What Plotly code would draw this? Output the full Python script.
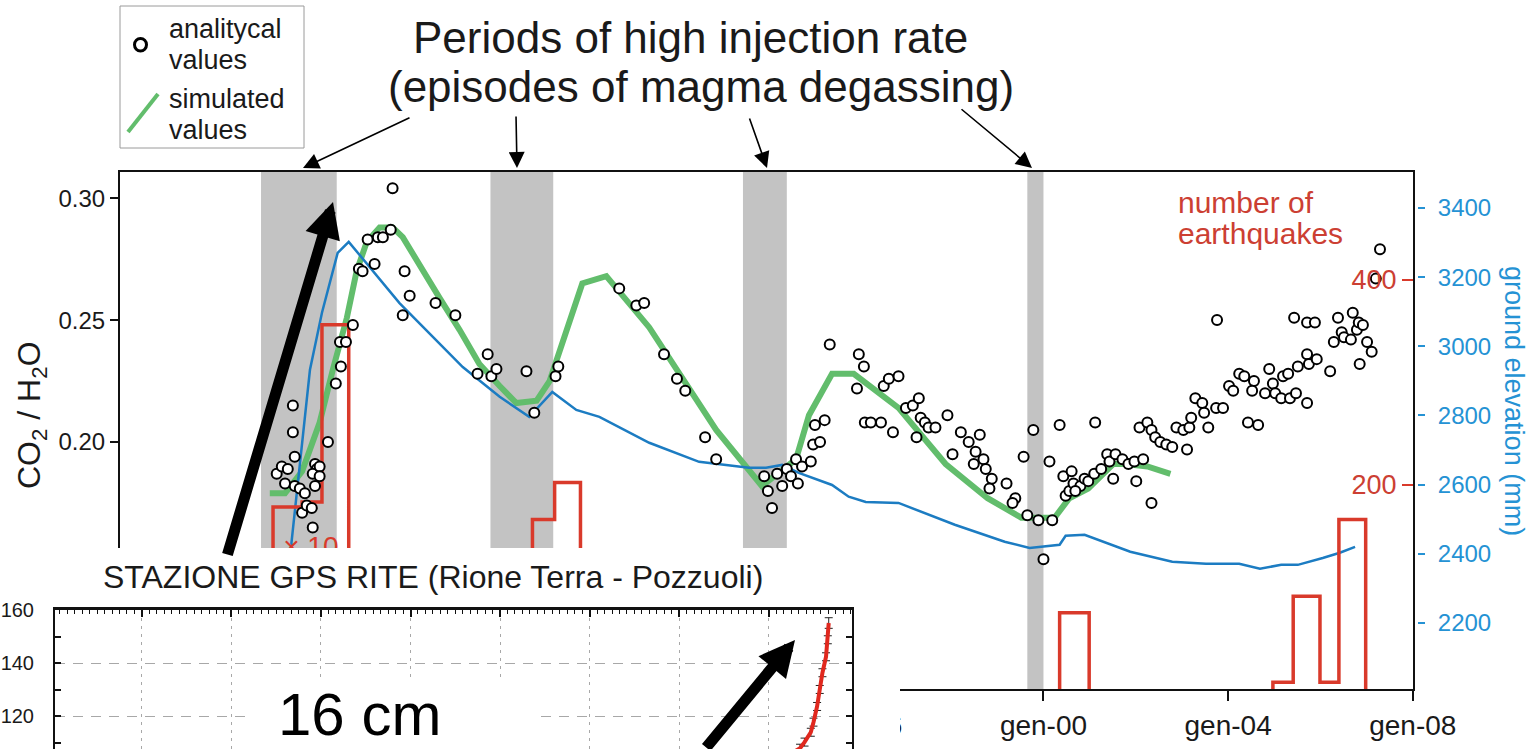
import plotly.graph_objects as go

W, H = 1538, 749


def px(x):
    return x / W


def py(y):
    return 1 - y / H


FONT = "Liberation Sans, Arial, sans-serif"
GREEN = "#62bd6c"
BLUE = "#1c7cc2"
BLUE_TXT = "#2592d4"
RED = "#d93a2b"
RED_TXT = "#cc3f33"
GRAY = "#c3c3c3"
INK = "#1a1a1a"

# ---------------- data ----------------
x_tick_years = [1980, 1984, 1988, 1992, 1996, 2000, 2004, 2008]
x_tick_labels = ["gen-80", "gen-84", "gen-88", "gen-92", "gen-96", "gen-00", "gen-04", "gen-08"]

ratio_ticks = [0.10, 0.15, 0.20, 0.25, 0.30]
elev_ticks = [2200, 2400, 2600, 2800, 3000, 3200, 3400]
eq_ticks = [200, 400]

period_start = [1983.05, 1988.02, 1993.49, 1999.65]
period_end = [1984.69, 1989.38, 1994.44, 2000.00]

# analytical CO2/H2O values
obs_year = [
    1983.39, 1983.50, 1983.63, 1983.57, 1983.74, 1983.74, 1983.78, 1983.78, 1983.89, 1984.00,
    1983.94, 1984.04, 1984.17, 1984.15, 1984.22, 1984.26, 1984.17, 1984.32, 1984.32, 1984.22,
    1984.50, 1984.67, 1984.78, 1984.76, 1984.89, 1985.04, 1985.17, 1985.25, 1985.36, 1985.51,
    1985.58, 1985.69, 1985.86, 1985.90, 1986.16, 1986.27, 1986.12, 1986.83, 1987.26, 1987.96,
    1987.74, 1988.04, 1988.15, 1988.80, 1988.97, 1989.43, 1989.49, 1990.81, 1991.18, 1991.35,
    1991.78, 1992.06, 1992.24, 1992.67, 1992.91, 1993.95, 1994.03, 1994.12, 1994.23, 1994.34,
    1994.44, 1994.53, 1994.64, 1994.68, 1994.77, 1994.96, 1995.01, 1995.16, 1995.05, 1995.26,
    1995.37, 1996.00, 1996.11, 1995.96, 1996.13, 1996.26, 1996.48, 1996.74, 1996.54, 1996.65,
    1996.86, 1997.02, 1997.17, 1997.30, 1997.34, 1997.43, 1997.25, 1997.51, 1997.66, 1997.92,
    1998.03, 1998.21, 1998.38, 1998.62, 1998.53, 1998.49, 1998.70, 1998.75, 1998.88, 1998.83,
    1999.20, 1999.39, 1999.33, 1999.57, 1999.78, 1999.65, 1999.89, 2000.13, 2000.19, 2000.35,
    2000.43, 2000.61, 2000.48, 2000.56, 2000.65, 2000.80, 2000.89, 2000.97, 2001.10, 2000.69,
    2001.12, 2001.25, 2001.38, 2001.43, 2001.56, 2001.51, 2001.71, 2001.84, 2001.97, 2002.16,
    2002.01, 2002.34, 2002.08, 2002.25, 2002.34, 2002.42, 2002.53, 2002.66, 2002.79, 2003.11,
    2002.88, 2003.03, 2003.16, 2003.20, 2003.29, 2003.44, 2003.48, 2003.57, 2003.74, 2003.89,
    2003.76, 2004.02, 2004.11, 2004.24, 2004.35, 2004.43, 2004.65, 2004.56, 2004.52, 2004.80,
    2004.89, 2004.97, 2005.02, 2005.15, 2005.19, 2005.30, 2005.34, 2005.47, 2005.51, 2005.71,
    2005.71, 2005.75, 2005.92, 2006.21, 2005.43, 2005.71, 2005.88, 2006.29, 2006.38, 2006.46,
    2006.51, 2006.66, 2006.70, 2006.79, 2006.83, 2006.92, 2007.01, 2007.11, 2006.85, 2007.29,
    2007.20, 2000.00,
]
obs_ratio = [
    0.187, 0.190, 0.189, 0.183, 0.215, 0.204, 0.194, 0.182, 0.181, 0.179,
    0.171, 0.174, 0.165, 0.173, 0.191, 0.189, 0.187, 0.190, 0.186, 0.182,
    0.200, 0.224, 0.231, 0.241, 0.241, 0.248, 0.271, 0.270, 0.283, 0.273,
    0.284, 0.284, 0.287, 0.304, 0.270, 0.260, 0.252, 0.257, 0.252, 0.236,
    0.228, 0.227, 0.230, 0.229, 0.212, 0.227, 0.231, 0.263, 0.256, 0.257,
    0.236, 0.226, 0.221, 0.202, 0.193, 0.186, 0.180, 0.173, 0.187, 0.182,
    0.189, 0.186, 0.193, 0.183, 0.190, 0.192, 0.199, 0.200, 0.207, 0.209,
    0.240, 0.236, 0.231, 0.222, 0.208, 0.208, 0.208, 0.204, 0.223, 0.226,
    0.227, 0.214, 0.215, 0.218, 0.210, 0.208, 0.202, 0.206, 0.206, 0.211,
    0.195, 0.204, 0.200, 0.203, 0.196, 0.191, 0.193, 0.189, 0.185, 0.181,
    0.183, 0.177, 0.175, 0.194, 0.205, 0.170, 0.168, 0.192, 0.168, 0.207,
    0.186, 0.188, 0.178, 0.180, 0.183, 0.182, 0.185, 0.184, 0.187, 0.180,
    0.208, 0.189, 0.195, 0.192, 0.195, 0.185, 0.193, 0.191, 0.192, 0.193,
    0.184, 0.175, 0.206, 0.208, 0.205, 0.202, 0.200, 0.199, 0.198, 0.197,
    0.206, 0.205, 0.206, 0.210, 0.218, 0.216, 0.212, 0.206, 0.214, 0.214,
    0.250, 0.223, 0.221, 0.228, 0.227, 0.208, 0.207, 0.225, 0.221, 0.220,
    0.230, 0.224, 0.220, 0.218, 0.227, 0.228, 0.218, 0.220, 0.231, 0.216,
    0.236, 0.232, 0.234, 0.229, 0.251, 0.249, 0.249, 0.241, 0.251, 0.245,
    0.243, 0.242, 0.253, 0.246, 0.249, 0.248, 0.241, 0.237, 0.232, 0.279,
    0.267, 0.152,
]

# simulated CO2/H2O values
sim_year = [
    1983.24, 1983.57, 1983.94, 1984.32, 1984.61, 1984.91, 1985.12, 1985.34, 1985.62, 1985.90,
    1986.12, 1986.49, 1986.92, 1987.35, 1987.78, 1988.22, 1988.58, 1989.02, 1989.30, 1990.01,
    1990.53, 1991.46, 1992.91, 1993.90, 1994.64, 1994.92, 1995.42, 1995.89, 1996.86, 1997.88,
    1998.79, 1999.52, 2000.24, 2000.56, 2000.97, 2001.51, 2001.79, 2002.25, 2002.75,
]
sim_ratio = [
    0.179, 0.179, 0.188, 0.208, 0.230, 0.251, 0.270, 0.282, 0.288, 0.288,
    0.284, 0.272, 0.259, 0.246, 0.232, 0.223, 0.216, 0.217, 0.225, 0.265,
    0.268, 0.247, 0.205, 0.182, 0.193, 0.211, 0.228, 0.228, 0.214, 0.191,
    0.177, 0.169, 0.169, 0.177, 0.181, 0.191, 0.191, 0.190, 0.187,
]

# ground elevation (mm)
elev_year = [
    1983.66, 1983.70, 1984.11, 1984.37, 1984.71, 1984.95, 1986.05, 1987.42, 1988.22, 1988.86,
    1989.36, 1989.88, 1990.38, 1991.46, 1992.54, 1993.62, 1993.99, 1994.34, 1994.70, 1995.42,
    1995.78, 1996.15, 1996.86, 1998.08, 1999.16, 1999.70, 2000.35, 2000.48, 2000.89, 2001.88,
    2002.79, 2003.52, 2004.24, 2004.69, 2005.15, 2005.51, 2006.05, 2006.42, 2006.75,
]
elev_mm = [
    2300, 2420, 2932, 3097, 3270, 3302, 3125, 2940, 2854, 2796,
    2868, 2816, 2796, 2721, 2666, 2649, 2649, 2657, 2634, 2599,
    2565, 2550, 2547, 2484, 2435, 2417, 2426, 2452, 2455, 2406,
    2377, 2371, 2371, 2357, 2368, 2368, 2388, 2403, 2420,
]

# number of earthquakes (step histogram: bin edges and counts per episode)
eq_edges = [
    [1983.31, 1983.94, 1984.37, 1984.95],
    [1988.93, 1989.41, 1989.97],
    [2000.35, 2000.99],
    [2004.97, 2005.41, 2005.99, 2006.40, 2006.98],
]
eq_counts = [
    [178, 183, 356],
    [166, 202],
    [75],
    [7, 91, 7, 166],
]

# GPS station RITE (inset), vertical displacement in mm
gps_year = [2012.20, 2012.35, 2012.40, 2012.47, 2012.50, 2012.54, 2012.57, 2012.60, 2012.64, 2012.66, 2012.67]
gps_mm = [105.0, 108.0, 110.3, 114.0, 117.8, 123.7, 130.1, 136.4, 142.4, 148.8, 155.1]
gps_err = [1.5, 1.5, 1.5, 1.5, 1.5, 1.5, 1.5, 1.5, 1.5, 1.5, 2.0]
gps_major_ticks = [120, 140, 160]
gps_minor_ticks = [110, 130, 150]

# ---------------- build step path for histogram ----------------
eq_x, eq_y = [], []
for edges, counts in zip(eq_edges, eq_counts):
    eq_x += [edges[0]] + edges[:-1] + [edges[-1]]
    eq_y += [0] + counts + [0]
    eq_x.append(None)
    eq_y.append(None)

fig = go.Figure()

fig.add_trace(go.Scatter(x=sim_year, y=sim_ratio, mode="lines",
                         line=dict(color=GREEN, width=6), xaxis="x", yaxis="y",
                         name="simulated values"))
fig.add_trace(go.Scatter(x=elev_year, y=elev_mm, mode="lines",
                         line=dict(color=BLUE, width=2.5), xaxis="x", yaxis="y2",
                         name="ground elevation"))
fig.add_trace(go.Scatter(x=eq_x, y=eq_y, mode="lines", line_shape="hv",
                         line=dict(color=RED, width=3.5), xaxis="x", yaxis="y3",
                         name="number of earthquakes"))
fig.add_trace(go.Scatter(x=[1984.13], y=[137], mode="text", text=["× 10"],
                         textfont=dict(color=RED, size=28, family=FONT),
                         xaxis="x", yaxis="y3", showlegend=False))
fig.add_trace(go.Scatter(x=obs_year, y=obs_ratio, mode="markers",
                         marker=dict(symbol="circle", size=10, color="white",
                                     line=dict(color="black", width=2)),
                         xaxis="x", yaxis="y6", name="analitycal values"))
# cover panel for inset (empty)
fig.add_trace(go.Scatter(x=[None], y=[None], xaxis="x2", yaxis="y4",
                         showlegend=False, hoverinfo="skip"))
# inset GPS series
fig.add_trace(go.Scatter(x=gps_year, y=gps_mm, mode="lines",
                         line=dict(color="#e0281e", width=4),
                         error_y=dict(type="data", array=gps_err, color="#222", thickness=1, width=4),
                         xaxis="x3", yaxis="y5", showlegend=False))

hidden = dict(showline=False, showgrid=False, zeroline=False, showticklabels=False, ticks="",
              automargin=False)

fig.update_layout(
    template="none",
    width=W, height=H,
    margin=dict(l=0, r=0, t=0, b=0, autoexpand=False),
    paper_bgcolor="white", plot_bgcolor="white",
    showlegend=False,
    font=dict(family=FONT, color=INK),
    xaxis=dict(domain=[px(120), px(1413)], range=[1979.995, 2008.005], anchor="y", automargin=False,
               showline=True, linecolor="#111", linewidth=2, mirror=True,
               ticks="outside", ticklen=10, tickwidth=2, tickcolor="#111",
               tickvals=x_tick_years, ticktext=x_tick_labels,
               tickfont=dict(size=28, color=INK), showgrid=False, zeroline=False),
    yaxis=dict(domain=[py(689), py(172)], range=[0.0988, 0.3107], anchor="x", automargin=False,
               showline=True, linecolor="#111", linewidth=2, mirror=True,
               ticks="outside", ticklen=8, tickwidth=2, tickcolor="#111",
               tickvals=ratio_ticks, tickformat=".2f",
               tickfont=dict(size=24, color=INK), showgrid=False, zeroline=False),
    yaxis2=dict(overlaying="y", side="right", anchor="free", position=px(1417), automargin=False,
                range=[2009, 3504], tickvals=elev_ticks,
                ticks="outside", ticklen=7, tickwidth=2, tickcolor=BLUE_TXT,
                tickfont=dict(size=24, color=BLUE_TXT), ticklabelstandoff=8,
                showline=False, showgrid=False, zeroline=False),
    yaxis3=dict(overlaying="y", side="left", anchor="free", position=px(1413),
                range=[0.5, 505], automargin=False,
                tickvals=eq_ticks, ticks="outside", ticklen=11, tickwidth=2,
                tickcolor=RED, tickfont=dict(size=27, color=RED_TXT),
                showline=False, showgrid=False, zeroline=False),
    yaxis6=dict(overlaying="y", range=[0.0988, 0.3107], visible=False, automargin=False),
    xaxis2=dict(domain=[0, px(900)], range=[0, 1], anchor="y4", **hidden),
    yaxis4=dict(domain=[0, py(548)], range=[0, 1], anchor="x2", **hidden),
    xaxis3=dict(domain=[px(55), px(852)], range=[2004.03, 2012.93], anchor="y5", side="top",
                automargin=False,
                showline=True, linecolor="#111", linewidth=2.5, mirror=False,
                ticks="inside", ticklen=7, tickwidth=1.5, tickcolor="#111",
                dtick=1, tick0=2005, showticklabels=False,
                showgrid=True, gridcolor="#a8a8a8", gridwidth=1, griddash="3px,5px",
                zeroline=False,
                minor=dict(ticks="inside", ticklen=4, tickwidth=1, tickcolor="#111",
                           dtick=1 / 12, tick0=2004, showgrid=False)),
    yaxis5=dict(domain=[0, py(610)], range=[107.7, 160], anchor="x3", automargin=False,
                showline=True, linecolor="#111", linewidth=2, mirror="ticks",
                ticks="inside", ticklen=6, tickwidth=1.5, tickcolor="#111",
                tickvals=gps_major_ticks, ticklabelstandoff=15,
                tickfont=dict(size=20, color=INK),
                showgrid=True, gridcolor="#a8a8a8", gridwidth=1, griddash="10px,8px",
                zeroline=False,
                minor=dict(tickvals=gps_minor_ticks, ticks="inside", ticklen=6,
                           tickwidth=1.5, tickcolor="#111", showgrid=False)),
)

shapes = []
for s, e in zip(period_start, period_end):
    shapes.append(dict(type="rect", xref="x", yref="y domain", x0=s, x1=e, y0=0, y1=1,
                       fillcolor=GRAY, line=dict(width=0), layer="below"))
# legend box and symbols
shapes.append(dict(type="rect", xref="paper", yref="paper", x0=px(120), x1=px(304),
                   y0=py(148), y1=py(6), line=dict(color="#9a9a9a", width=1),
                   fillcolor="rgba(0,0,0,0)", layer="above"))
shapes.append(dict(type="circle", xref="paper", yref="paper", x0=px(134.5), x1=px(146.5),
                   y0=py(51), y1=py(38.5), line=dict(color="black", width=3), layer="above"))
shapes.append(dict(type="line", xref="paper", yref="paper", x0=px(128), y0=py(132),
                   x1=px(158), y1=py(94), line=dict(color=GREEN, width=4), layer="above"))
# white box behind "16 cm"
shapes.append(dict(type="rect", xref="paper", yref="paper", x0=px(247), x1=px(537),
                   y0=0, y1=py(680), fillcolor="white", line=dict(width=0), layer="above"))
fig.update_layout(shapes=shapes)

ann = []


def text(t, x, y, size, color=INK, xanchor="center", angle=0):
    ann.append(dict(text=t, x=px(x), y=py(y), xref="paper", yref="paper", showarrow=False,
                    xanchor=xanchor, yanchor="middle", textangle=angle,
                    font=dict(size=size, color=color, family=FONT)))


text("Periods of high injection rate", 690, 38, 44)
text("(episodes of magma degassing)", 701, 86, 44)
text("analitycal", 167, 29, 27, xanchor="left")
text("values", 167, 60, 27, xanchor="left")
text("simulated", 167, 99, 27, xanchor="left")
text("values", 167, 130, 27, xanchor="left")
text("number of", 1176, 202, 30, color=RED_TXT, xanchor="left")
text("earthquakes", 1176, 234, 30, color=RED_TXT, xanchor="left")
text("ground elevation (mm)", 1514, 401, 27, color=BLUE_TXT, angle=90)
text("CO<sub>2</sub> / H<sub>2</sub>O", 31, 415, 32, angle=-90)
text("STAZIONE GPS RITE (Rione Terra - Pozzuoli)", 433, 577, 32)
text("16 cm", 359, 714, 60, color="black")


def arrow(hx, hy, tx, ty, width, size):
    ann.append(dict(text="", x=px(hx), y=py(hy), xref="paper", yref="paper",
                    ax=tx - hx, ay=ty - hy, showarrow=True, arrowhead=2,
                    arrowsize=size, arrowwidth=width, arrowcolor="black", standoff=0))


arrow(303, 168, 411, 117, 1.6, 2.0)
arrow(517, 168, 516, 115, 1.6, 2.0)
arrow(767, 168, 749, 117, 1.6, 2.0)
arrow(1032, 168, 960, 108, 1.6, 2.0)
arrow(333, 202, 227, 556, 11, 0.65)
arrow(795, 640, 705, 762, 11, 0.65)

fig.update_layout(annotations=ann)

fig.write_html("out.html", config={"displayModeBar": False},
               post_script="document.body.style.margin='0';document.body.style.overflow='hidden';")
